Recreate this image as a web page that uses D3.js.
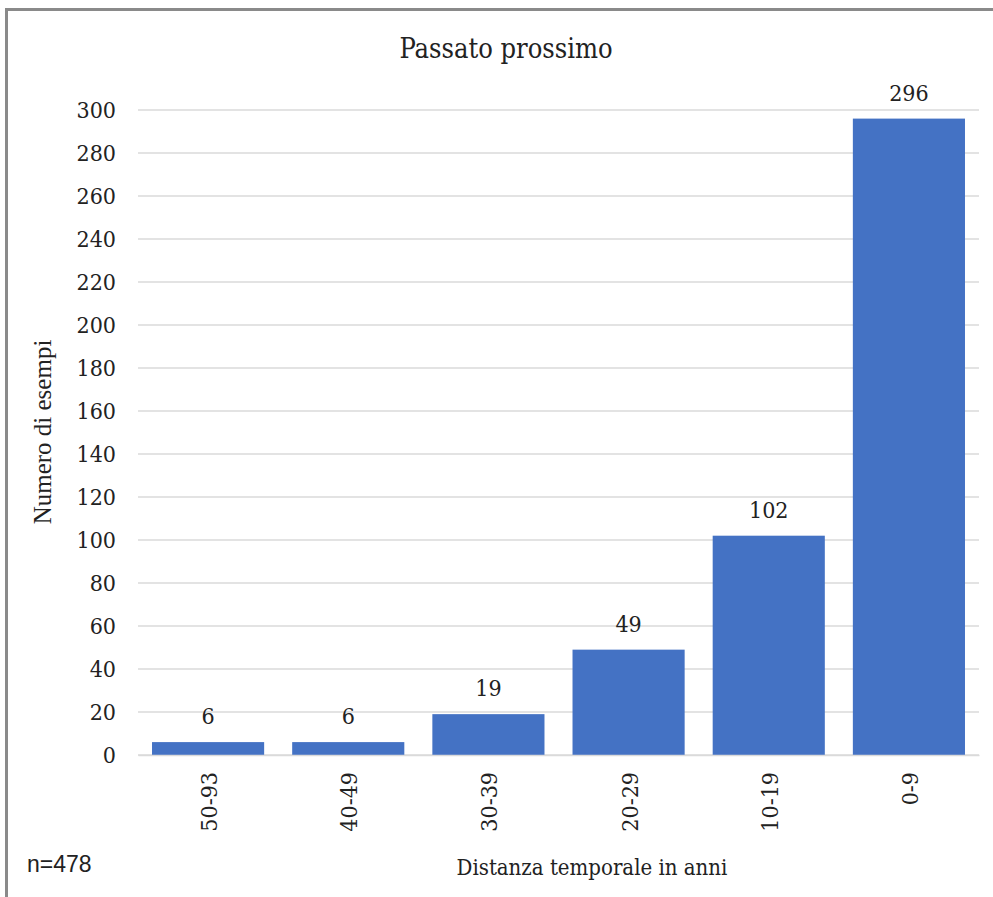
<!DOCTYPE html>
<html>
<head>
<meta charset="utf-8">
<script src="https://cdn.jsdelivr.net/npm/d3@7"></script>
<style>
  html, body { margin: 0; padding: 0; background: #fff; }
  svg { display: block; }
</style>
</head>
<body>
<script>
// Categories (years of temporal distance) and counts of examples
const categories = ["50-93", "40-49", "30-39", "20-29", "10-19", "0-9"];
const counts = [6, 6, 19, 49, 102, 296];
const yTicks = [0, 20, 40, 60, 80, 100, 120, 140, 160, 180, 200, 220, 240, 260, 280, 300];

const W = 993, H = 897;
const serif = "'DejaVu Serif', 'Liberation Serif', serif";

const svg = d3.select("body").append("svg")
  .attr("width", W).attr("height", H);

// frame (top and left edges)
svg.append("path")
  .attr("d", `M6.5,${H} V9.5 H${W}`)
  .attr("fill", "none")
  .attr("stroke", "#8a8a8a")
  .attr("stroke-width", 3);

const x = d3.scaleBand()
  .domain(categories)
  .range([138, 979])
  .paddingInner(0.2)
  .paddingOuter(0.1);

const y = d3.scaleLinear()
  .domain([0, 300])
  .range([755, 110]);

// gridlines
svg.append("g")
  .selectAll("line")
  .data(yTicks)
  .join("line")
  .attr("x1", 138).attr("x2", 979)
  .attr("y1", d => y(d)).attr("y2", d => y(d))
  .attr("stroke", "#dadada")
  .attr("stroke-width", 1.5);

// y axis labels
const yAxis = svg.append("g")
  .attr("transform", "translate(116,0)")
  .call(d3.axisLeft(y).tickValues(yTicks).tickSize(0).tickPadding(0));
yAxis.select(".domain").remove();
yAxis.selectAll("text")
  .attr("font-family", serif)
  .attr("font-stretch", "condensed")
  .attr("font-size", 23)
  .attr("fill", "#222");

// bars
svg.append("g")
  .selectAll("rect")
  .data(categories)
  .join("rect")
  .attr("x", d => x(d))
  .attr("width", x.bandwidth())
  .attr("y", (d, i) => y(counts[i]))
  .attr("height", (d, i) => y(0) - y(counts[i]))
  .attr("fill", "#4472c4");

// value labels
svg.append("g")
  .selectAll("text")
  .data(categories)
  .join("text")
  .attr("x", d => x(d) + x.bandwidth() / 2)
  .attr("y", (d, i) => y(counts[i]) - 18)
  .attr("text-anchor", "middle")
  .attr("font-family", serif)
  .attr("font-stretch", "condensed")
  .attr("font-size", 23)
  .attr("fill", "#222")
  .text((d, i) => counts[i]);

// x axis category labels (rotated)
const xAxis = svg.append("g")
  .attr("transform", "translate(0,755)")
  .call(d3.axisBottom(x).tickSize(0).tickPadding(0));
xAxis.select(".domain")
  .attr("stroke", "#dadada").attr("stroke-width", 1.5);
xAxis.selectAll("text")
  .attr("font-family", serif)
  .attr("font-stretch", "condensed")
  .attr("font-size", 23)
  .attr("fill", "#222")
  .attr("text-anchor", "end")
  .attr("dy", "0.35em")
  .attr("transform", "translate(1,17) rotate(-90)");

// title
svg.append("text")
  .attr("x", 506).attr("y", 58)
  .attr("text-anchor", "middle")
  .attr("font-family", serif)
  .attr("font-stretch", "condensed")
  .attr("font-size", 27)
  .attr("fill", "#222")
  .text("Passato prossimo");

// axis titles
svg.append("text")
  .attr("x", 592).attr("y", 875)
  .attr("text-anchor", "middle")
  .attr("font-family", serif)
  .attr("font-stretch", "condensed")
  .attr("font-size", 22)
  .attr("fill", "#222")
  .text("Distanza temporale in anni");

svg.append("text")
  .attr("transform", "translate(51,432) rotate(-90)")
  .attr("text-anchor", "middle")
  .attr("font-family", "'Liberation Serif', serif")
  .attr("font-size", 25)
  .attr("fill", "#222")
  .text("Numero di esempi");

// sample size note
svg.append("text")
  .attr("x", 27).attr("y", 872)
  .attr("font-family", "'Liberation Sans', Arial, sans-serif")
  .attr("font-size", 23)
  .attr("fill", "#222")
  .text("n=478");
</script>
</body>
</html>
